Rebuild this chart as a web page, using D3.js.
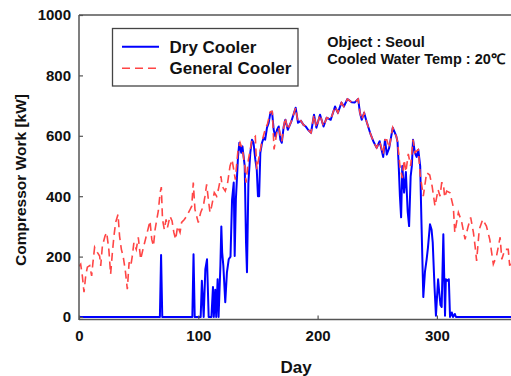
<!DOCTYPE html>
<html>
<head>
<meta charset="utf-8">
<script src="https://cdn.jsdelivr.net/npm/d3@7"></script>
<style>
  html, body { margin: 0; padding: 0; background: #fff; }
  text { font-family: Arial, "Liberation Sans", sans-serif; font-weight: bold; fill: #111; }
</style>
</head>
<body>
<svg id="chart" width="511" height="376"></svg>
<script>
const xTicks = [0, 100, 200, 300];
const yTicks = [0, 200, 400, 600, 800, 1000];
const seriesNames = ["Dry Cooler", "General Cooler"];
const notes = ["Object : Seoul", "Cooled Water Temp : 20\u2103"];

const generalDays = [0,1.4,2.8,4.2,5.6,7,9,10.6,11.7,13.1,15.4,17.3,18.2,19.6,21.8,23.2,25,26.5,28,29.3,30.7,32.7,34,35.5,37,39,40.5,42,43.4,44.7,46,48,49.7,51.7,53.6,55,56.4,57.8,59.5,61,62.4,63.8,65.2,66.5,68,69,70,71.5,73,74.2,76.3,78,79.5,81,82.7,84.7,86,88.3,90.2,92.5,94.5,95.8,97.2,98.6,100,102,104.2,105.6,107,108.4,109.8,111.2,113.4,115.4,116.8,119,120,122.6,124.6,126.6,128.3,129.7,131,133.3,135,137,139,140,142,145,147.8,149,151,153.4,156,158,160.4,162,163.5,166,167.4,170,172.7,175,178,181.6,183.6,186,188,190,192,194.5,197,199,202,205,207.6,211,214.6,217,220,222,225,228.6,231,234,235.5,237,239,241,244,246.7,249.5,252,255,256.5,258,260,263,266,267,269,271,272.5,274,276,278,280,281.5,284.4,286,288.6,291.4,294,296,298.4,301,302.6,304,305.4,306.5,308.2,311,313.8,315,318,320.6,323.6,326,328.3,330.6,332,333.3,335.5,338.4,341.5,344.3,347.3,350,353,354.4,357,359.8,361,363];
const generalValues = [168,175,136,82,136,165,170,136,181,231,214,202,169,235,268,280,224,142,214,268,313,340,268,224,202,148,92,181,169,202,246,224,264,191,224,246,268,290,318,257,235,290,323,351,412,430,323,290,323,297,334,318,280,257,301,280,313,323,334,351,367,445,356,334,313,346,367,400,439,390,346,367,412,400,422,466,433,417,445,500,521,488,455,554,577,554,500,445,521,587,598,489,532,582,620,640,680,681,555,615,627,582,660,620,648,693,643,650,637,631,620,610,670,627,670,631,660,653,697,676,710,697,722,711,710,722,676,653,676,648,610,582,560,582,538,587,587,560,627,598,580,500,460,520,480,540,500,587,544,554,470,400,478,470,433,367,422,400,444,444,396,417,411,363,280,346,318,257,297,330,280,235,186,290,323,301,257,175,202,264,191,224,224,170,190];

const dryDays = [0,67.8,68.8,69.8,95,96,97,102,103,104.5,105.9,107.3,108.7,111,112.3,113,114.2,115,116.2,117,118.5,119.3,120,121,122.6,124,125.5,127,128.3,129.7,130.5,131.5,133.3,134.4,136,137,138.9,140,140.8,142,143.6,145,146.3,147.8,149,150,151,152,153.4,154.8,156,157.6,159,160.4,161.8,163.2,164.6,166,167.4,168.8,170,171.6,173,175,178,181.6,183.6,186,188,190,192,194.5,197,199,202,205,207.6,211,214.6,217,220,222,225,228.6,231,234,235.5,237,239,241,244,246.7,249.5,252,255,256.5,258,260,263,266,267,268,269,270,271,272.5,274,275.5,276.7,278,279,280,281.5,283,284.4,286,287,288.6,290,291.4,292.5,294.2,295.5,296.5,298,299.2,300,301,302,303,304,305.4,306.8,307.5,308.7,310,311,312.5,313.5,315,316,363];
const dryValues = [0,0,205,0,0,208,0,0,120,0,158,191,0,0,99,0,90,0,125,0,169,300,214,169,49,148,191,200,389,445,202,389,532,577,544,565,500,247,148,445,544,587,577,521,489,400,400,544,577,593,587,627,643,676,680,620,598,620,631,587,577,631,653,620,648,693,643,650,637,631,620,610,670,627,670,631,660,653,697,676,710,697,722,711,710,722,676,653,676,648,610,582,560,582,530,587,538,560,627,598,580,500,400,330,500,412,480,350,301,466,500,587,544,530,554,500,323,66,150,191,230,307,290,247,100,4,60,125,80,40,33,274,4,125,120,125,0,15,0,10,0,0];

const svg = d3.select("#chart");
svg.append("rect").attr("width", 511).attr("height", 376).attr("fill", "#fff");

const x = d3.scaleLinear().domain([0, 365]).range([79, 79 + 365 * 1.193]);
const y = d3.scaleLinear().domain([0, 1000]).range([317, 15]);
const axisColor = "#555";
const fontFam = "Arial, 'Liberation Sans', sans-serif";

svg.append("defs").append("clipPath").attr("id", "clip")
  .append("rect").attr("x", 79).attr("y", 10).attr("width", 440).attr("height", 312);

const plot = svg.append("g").attr("clip-path", "url(#clip)");

const line = d3.line().x(d => x(d[0])).y(d => y(d[1]));
const dryData = dryDays.map((d, i) => [d, dryValues[i]]);
const genData = generalDays.map((d, i) => [d, generalValues[i]]);

plot.append("path").datum(dryData).attr("d", line)
  .attr("fill", "none").attr("stroke", "#0000ff").attr("stroke-width", 2)
  .attr("stroke-linejoin", "round");
plot.append("path").datum(genData).attr("d", line)
  .attr("fill", "none").attr("stroke", "#ff4545").attr("stroke-width", 1.6)
  .attr("stroke-dasharray", "8,5");

// Frame lines
svg.append("line").attr("x1", 79).attr("x2", 511).attr("y1", 15).attr("y2", 15)
  .attr("stroke", axisColor).attr("stroke-width", 1.3);
svg.append("line").attr("x1", 79).attr("x2", 79).attr("y1", 15).attr("y2", 320)
  .attr("stroke", axisColor).attr("stroke-width", 1.5);
svg.append("line").attr("x1", 79).attr("x2", 511).attr("y1", 319.5).attr("y2", 319.5)
  .attr("stroke", axisColor).attr("stroke-width", 1.5);

// Axes
const yAxis = svg.append("g").attr("transform", "translate(79,0)")
  .call(d3.axisLeft(y).tickValues(yTicks).tickFormat(d3.format("d")).tickSize(-4).tickPadding(8));
yAxis.select(".domain").remove();
yAxis.selectAll("line").attr("stroke", axisColor).attr("stroke-width", 1.2);
yAxis.selectAll("text").attr("font-size", 15).attr("font-family", fontFam).attr("font-weight", "bold").attr("fill", "#111");

const xAxis = svg.append("g").attr("transform", "translate(0,319.5)")
  .call(d3.axisBottom(x).tickValues(xTicks).tickFormat(d3.format("d")).tickSize(-4).tickPadding(11));
xAxis.select(".domain").remove();
xAxis.selectAll("line").attr("stroke", axisColor).attr("stroke-width", 1.2);
xAxis.selectAll("text").attr("font-size", 15).attr("font-family", fontFam).attr("font-weight", "bold").attr("fill", "#111");

// Axis titles
svg.append("text").attr("x", 296).attr("y", 373).attr("text-anchor", "middle")
  .attr("font-size", 17).text("Day");
svg.append("text").attr("transform", "translate(26,180) rotate(-90)")
  .attr("text-anchor", "middle").attr("font-size", 15.5).text("Compressor Work [kW]");

// Legend
const lg = svg.append("g");
lg.append("rect").attr("x", 112.5).attr("y", 28.5).attr("width", 185.5).attr("height", 57.5)
  .attr("fill", "#fff").attr("stroke", "#444").attr("stroke-width", 1.3);
lg.append("line").attr("x1", 122).attr("x2", 159).attr("y1", 46.7).attr("y2", 46.7)
  .attr("stroke", "#0000ff").attr("stroke-width", 2);
lg.append("line").attr("x1", 122).attr("x2", 160).attr("y1", 68.3).attr("y2", 68.3)
  .attr("stroke", "#ff4545").attr("stroke-width", 1.6).attr("stroke-dasharray", "8,5");
lg.append("text").attr("x", 169.5).attr("y", 52.7).attr("font-size", 17).text(seriesNames[0]);
lg.append("text").attr("x", 169.5).attr("y", 74.3).attr("font-size", 17).text(seriesNames[1]);

// Annotation
svg.append("text").attr("x", 327.3).attr("y", 46.7).attr("font-size", 14.5).text(notes[0]);
svg.append("text").attr("x", 327.3).attr("y", 64).attr("font-size", 14.5).text(notes[1]);
</script>
</body>
</html>
